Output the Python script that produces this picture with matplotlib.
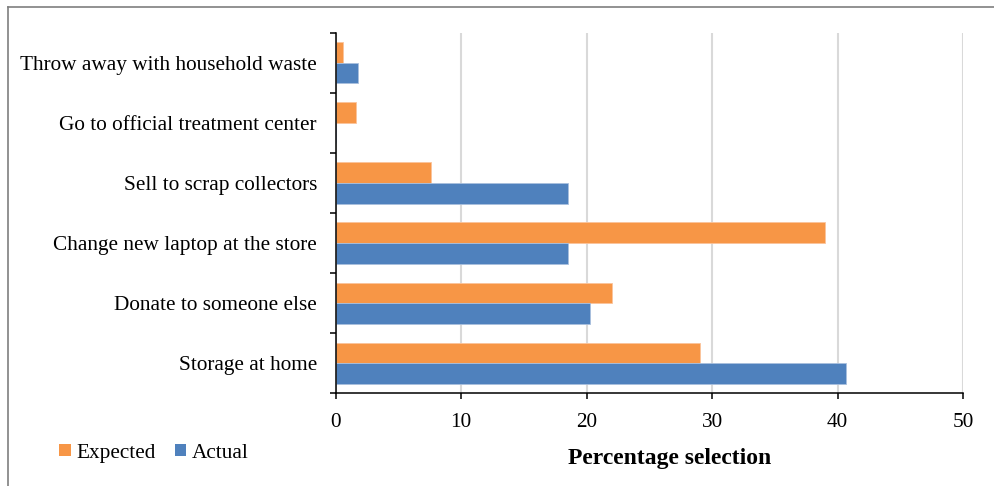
import matplotlib
matplotlib.use("Agg")
import matplotlib.pyplot as plt
from matplotlib.patches import Patch
from matplotlib.lines import Line2D
import numpy as np

# Disposal options (bottom to top) and share of respondents (%)
categories = [
    "Storage at home",
    "Donate to someone else",
    "Change new laptop at the store",
    "Sell to scrap collectors",
    "Go to official treatment center",
    "Throw away with household waste",
]
expected = [29.0, 22.0, 39.0, 7.6, 1.6, 0.6]
actual = [40.7, 20.3, 18.5, 18.5, 0.0, 1.8]
series_names = ["Expected", "Actual"]
x_ticks = [0, 10, 20, 30, 40, 50]

ORANGE = "#F79646"
BLUE = "#4F81BD"

plt.rcParams["font.family"] = ["Liberation Serif", "DejaVu Serif"]

W, H = 994, 486
fig = plt.figure(figsize=(W / 100, H / 100), dpi=100)
ax = fig.add_axes([335.7 / W, 1 - 393.3 / H, (963 - 335.7) / W, (393.3 - 32.7) / H])

y = np.arange(len(categories))
h = 0.342
ax.barh(y + h / 2, expected, height=h, color=ORANGE, edgecolor="#FBC39B",
        linewidth=0.6, zorder=3)
ax.barh(y - h / 2, actual, height=h, color=BLUE, edgecolor="#A9C0DE",
        linewidth=0.6, zorder=3)

ax.set_xlim(0, 50)
ax.set_ylim(-0.5, len(categories) - 0.5)
ax.set_xticks(x_ticks)
ax.set_xticklabels([str(t) for t in x_ticks])

# Category labels centred in each band, tick marks at band boundaries
ax.set_yticks(y)
ax.set_yticklabels(categories)
ax.set_yticks(np.arange(-0.5, len(categories), 1.0), minor=True)
ax.tick_params(axis="y", which="major", length=0, pad=13.5, labelsize=15.3)
ax.tick_params(axis="y", which="minor", length=4.5, width=1.1, color="black",
               direction="out")
ax.tick_params(axis="x", which="major", length=4.0, width=1.1, color="black",
               direction="out", pad=10, labelsize=15.3)

ax.grid(axis="x", color="#D9D9D9", linewidth=1.5, zorder=0)
ax.set_axisbelow(True)
for side in ("top", "right"):
    ax.spines[side].set_visible(False)
for side in ("left", "bottom"):
    ax.spines[side].set_color("black")
    ax.spines[side].set_linewidth(1.1)
    ax.spines[side].set_zorder(4)

fig.text(670 / W, 1 - 458 / H, "Percentage selection", ha="center", va="center",
         fontsize=17, fontweight="bold")

handles = [Patch(facecolor=ORANGE, edgecolor="none"),
           Patch(facecolor=BLUE, edgecolor="none")]
fig.legend(handles, series_names, loc="center left",
           bbox_to_anchor=(59 / W, 1 - 453 / H), ncol=2, frameon=False,
           fontsize=15.3, handlelength=0.55, handleheight=0.55,
           handletextpad=0.25, columnspacing=0.9, borderpad=0,
           borderaxespad=0)

# Outer chart border (top and left edges)
fig.add_artist(Line2D([7.5 / W, 7.5 / W], [0, 1 - 7.5 / H], transform=fig.transFigure,
                      color="#7F7F7F", linewidth=1.2))
fig.add_artist(Line2D([7.5 / W, 1], [1 - 7.5 / H, 1 - 7.5 / H], transform=fig.transFigure,
                      color="#7F7F7F", linewidth=1.2))

fig.savefig("out.png", dpi=100)
